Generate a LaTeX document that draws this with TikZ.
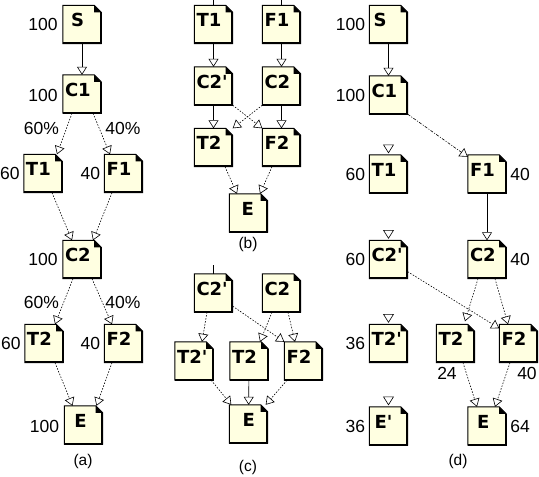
\documentclass[tikz,border=0pt]{standalone}
\usepackage{fontspec}
\setmainfont{Liberation Sans}
\newfontfamily\labfont{DejaVu Sans}
\usetikzlibrary{arrows.meta,calc,backgrounds}
\definecolor{cream}{RGB}{255,255,225}
\tikzset{
 doc/.style={minimum width=38pt, minimum height=38pt, inner sep=0pt, inner xsep=2pt,
   text width=34pt, align=left, text height=21pt, text depth=17pt,
   font=\labfont\bfseries\fontsize{18}{18}\selectfont},
 numtxt/.style={font=\fontsize{17.5}{17.5}\selectfont, inner sep=0pt},
 captxt/.style={font=\fontsize{15.5}{15.5}\selectfont, inner sep=0pt},
 arr/.style={-{Triangle[open,length=8pt,width=10pt]}, line width=0.6pt},
 dotarr/.style={arr, dash pattern=on 1.5pt off 1.5pt},
 dashdotarr/.style={arr, dash pattern=on 3pt off 1.5pt on 1pt off 1.5pt},
 plainline/.style={line width=0.6pt},
}
\newcommand\mydoc[1]{%
 \fill[cream] (#1.north west) -- ($(#1.north east)+(-7,0)$) -- ($(#1.north east)+(0,7)$) -- (#1.south east) -- (#1.south west) -- cycle;
 \draw[line width=0.9pt] (#1.north west) -- ($(#1.north east)+(-7,0)$) -- ($(#1.north east)+(0,7)$) -- (#1.south east) -- (#1.south west) -- cycle;
 \draw[line width=1.8pt] ($(#1.north east)+(-0.5,7)$) -- ($(#1.south east)+(-0.5,-0.5)$) -- ($(#1.south west)+(0,-0.5)$);
 \fill ($(#1.north east)+(-7,0)$) -- ($(#1.north east)+(-7,7)$) -- ($(#1.north east)+(0,7)$) -- cycle;
}
\newcommand\lonetip[1]{\draw[line width=0.6pt, fill=white] ($(#1.north)+(-5,-10)$) -- ($(#1.north)+(5,-10)$) -- ($(#1.north)+(0,-2)$) -- cycle;}
\begin{document}
\begin{tikzpicture}[x=1pt,y=-1pt]
\useasboundingbox (0,0) rectangle (539,477);
% ---------- (a)
\node[doc] (aS)  at (82,24.5)    {\hspace*{6pt}S};
\node[doc] (aC1) at (82,94)      {C1};
\node[doc] (aT1) at (43,173.5)   {T1};
\node[doc] (aF1) at (123.5,173.5){F1};
\node[doc] (aC2) at (82,259.5)   {C2};
\node[doc] (aT2) at (44,343.5)   {T2};
\node[doc] (aF2) at (123.5,343.5){F2};
\node[doc] (aE)  at (83.5,425)   {\hspace*{8pt}E};
\node[numtxt,anchor=east] (naS)  at ($(aS.west)+(-5,0)$)  {100};
\node[numtxt,anchor=east] (naC1) at ($(aC1.west)+(-5,1)$) {100};
\node[numtxt,anchor=east] (naT1) at ($(aT1.west)+(-4,0)$) {60};
\node[numtxt,anchor=east] (naF1) at ($(aF1.west)+(-4,0)$) {40};
\node[numtxt,anchor=east] (naC2) at ($(aC2.west)+(-5,0)$) {100};
\node[numtxt,anchor=east] (naT2) at ($(aT2.west)+(-4,0)$) {60};
\node[numtxt,anchor=east] (naF2) at ($(aF2.west)+(-4,0)$) {40};
\node[numtxt,anchor=east] (naE)  at ($(aE.west)+(-5,1)$)  {100};
\node[numtxt] (pa1) at (41.5,128) {60\%};
\node[numtxt] (pa2) at (123,128)  {40\%};
\node[numtxt] (pa3) at (41.5,302) {60\%};
\node[numtxt] (pa4) at (123,302)  {40\%};
\node[captxt] (capa) at (83,461) {(a)};
\draw[arr] (aS) -- (aC1);
\draw[dotarr] ($(aC1.south)+(-10,0)$) -- ($(aT1.north)+(14,0)$);
\draw[dotarr] ($(aC1.south)+(11,0)$) -- ($(aF1.north)+(-13.5,0)$);
\draw[dotarr] ($(aT1.south)+(9,0)$) -- ($(aC2.north)+(-10,0)$);
\draw[dotarr] ($(aF1.south)+(-11.5,0)$) -- ($(aC2.north)+(11,0)$);
\draw[dotarr] ($(aC2.south)+(-9,0)$) -- ($(aT2.north)+(11,0)$);
\draw[dotarr] ($(aC2.south)+(10,0)$) -- ($(aF2.north)+(-11.5,0)$);
\draw[dotarr] ($(aT2.south)+(11,0)$) -- ($(aE.north)+(-11,0)$);
\draw[dotarr] ($(aF2.south)+(-11.5,0)$) -- ($(aE.north)+(13,0)$);
% ---------- (b)
\node[doc] (bT1)  at (213.5,24.5)  {T1};
\node[doc] (bF1)  at (281.5,24.5)  {F1};
\node[doc] (bC2p) at (213.5,86)    {C2'};
\node[doc] (bC2)  at (281.5,86)    {C2};
\node[doc] (bT2)  at (213.5,147.5) {T2};
\node[doc] (bF2)  at (281.5,147.5) {F2};
\node[doc] (bE)   at (248.5,213)   {\hspace*{10pt}E};
\coordinate (bT1in) at (213.5,0);
\coordinate (bF1in) at (281.5,0);
\node[captxt] (capb) at (248,244) {(b)};
\draw[plainline] (bT1in) -- (bT1);
\draw[plainline] (bF1in) -- (bF1);
\draw[arr] (bT1) -- (bC2p);
\draw[arr] (bF1) -- (bC2);
\draw[arr] (bC2p) -- (bT2);
\draw[arr] (bC2) -- (bF2);
\draw[dotarr] (bC2p.south east) -- (bF2.north west);
\draw[dotarr] (bC2.south west) -- (bT2.north east);
\draw[dotarr] ($(bT2.south)+(11.5,0)$) -- ($(bE.north)+(-11.5,0)$);
\draw[dotarr] ($(bF2.south)+(-9.5,0)$) -- ($(bE.north)+(11.5,0)$);
% ---------- (c)
\node[doc] (cC2p) at (213.5,293) {C2'};
\node[doc] (cC2)  at (281.5,293) {C2};
\node[doc] (cT2p) at (194,361)   {T2'};
\node[doc] (cT2)  at (249,361)   {T2};
\node[doc] (cF2)  at (303.5,361) {F2};
\node[doc] (cE)   at (248.5,424) {\hspace*{11pt}E};
\coordinate (cC2pin) at (213.5,265);
\node[captxt] (capc) at (248,467) {(c)};
\draw[plainline] (cC2pin) -- (cC2p);
\draw[dotarr] ($(cC2p.south)+(-6.5,0)$) -- ($(cT2p.north)+(8,0)$);
\draw[dotarr] ($(cC2p.south east)+(0,-6)$) -- (cF2.north west);
\draw[dotarr] ($(cC2.south)+(-9.5,0)$) -- ($(cT2.north)+(11,0)$);
\draw[dotarr] ($(cC2.south)+(6.5,0)$) -- ($(cF2.north)+(-8.5,0)$);
\draw[dotarr] ($(cT2p.south east)+(-2,0)$) -- ($(cE.north west)+(2,0)$);
\draw[arr] (cT2) -- (cE);
\draw[dotarr] ($(cF2.south)+(-16.5,0)$) -- ($(cE.north east)+(-2,0)$);
% ---------- (d)
\node[doc] (dS)   at (388.5,24.5)  {\hspace*{2pt}S};
\node[doc] (dC1)  at (388.5,95)    {C1};
\node[doc] (dT1)  at (388.5,174)   {T1};
\node[doc] (dF1)  at (487,174)     {F1};
\node[doc] (dC2p) at (388.5,259.5) {C2'};
\node[doc] (dC2)  at (487,259.5)   {C2};
\node[doc] (dT2p) at (388.5,343.5) {T2'};
\node[doc] (dT2)  at (455.5,343.5) {T2};
\node[doc] (dF2)  at (518.5,343.5) {F2};
\node[doc] (dEp)  at (388.5,426)   {\hspace*{3pt}E'};
\node[doc] (dE)   at (487,426)     {\hspace*{7pt}E};
\node[numtxt,anchor=east] (ndS)   at ($(dS.west)+(-4,0)$)   {100};
\node[numtxt,anchor=east] (ndC1)  at ($(dC1.west)+(-4,0)$)  {100};
\node[numtxt,anchor=east] (ndT1)  at ($(dT1.west)+(-4,0)$)  {60};
\node[numtxt,anchor=west] (ndF1)  at ($(dF1.east)+(4,0)$)   {40};
\node[numtxt,anchor=east] (ndC2p) at ($(dC2p.west)+(-4,0)$) {60};
\node[numtxt,anchor=west] (ndC2)  at ($(dC2.east)+(4,0)$)   {40};
\node[numtxt,anchor=east] (ndT2p) at ($(dT2p.west)+(-4,0)$) {36};
\node[numtxt] (ndT2) at (447,373) {24};
\node[numtxt] (ndF2) at (527,373) {40};
\node[numtxt,anchor=east] (ndEp)  at ($(dEp.west)+(-4,0)$)  {36};
\node[numtxt,anchor=west] (ndE)   at ($(dE.east)+(4,0)$)    {64};
\node[captxt] (capd) at (458,461) {(d)};
\draw[arr] (dS) -- (dC1);
\draw[dashdotarr] (dC1.south east) -- ($(dF1.north west)+(0,2)$);
\draw[arr] (dF1) -- (dC2);
\lonetip{dT1}
\lonetip{dC2p}
\lonetip{dT2p}
\lonetip{dEp}
\draw[dotarr] ($(dC2p.south east)+(0,-7)$) -- ($(dF2.north west)+(0,4)$);
\draw[dotarr] ($(dC2.south)+(-9,0)$) -- ($(dT2.north)+(9.5,-3)$);
\draw[dotarr] ($(dC2.south)+(8,0)$) -- ($(dF2.north)+(-10.5,0)$);
\draw[dotarr] ($(dT2.south)+(7.5,0)$) -- ($(dE.north)+(-10,0)$);
\draw[dotarr] ($(dF2.south)+(-8.5,0)$) -- ($(dE.north)+(8,0)$);
% ---------- boxes
\begin{scope}[on background layer]
\foreach \n in {aS,aC1,aT1,aF1,aC2,aT2,aF2,aE,bT1,bF1,bC2p,bC2,bT2,bF2,bE,cC2p,cC2,cT2p,cT2,cF2,cE,dS,dC1,dT1,dF1,dC2p,dC2,dT2p,dT2,dF2,dEp,dE}{\mydoc{\n}}
\end{scope}
\end{tikzpicture}
\end{document}
